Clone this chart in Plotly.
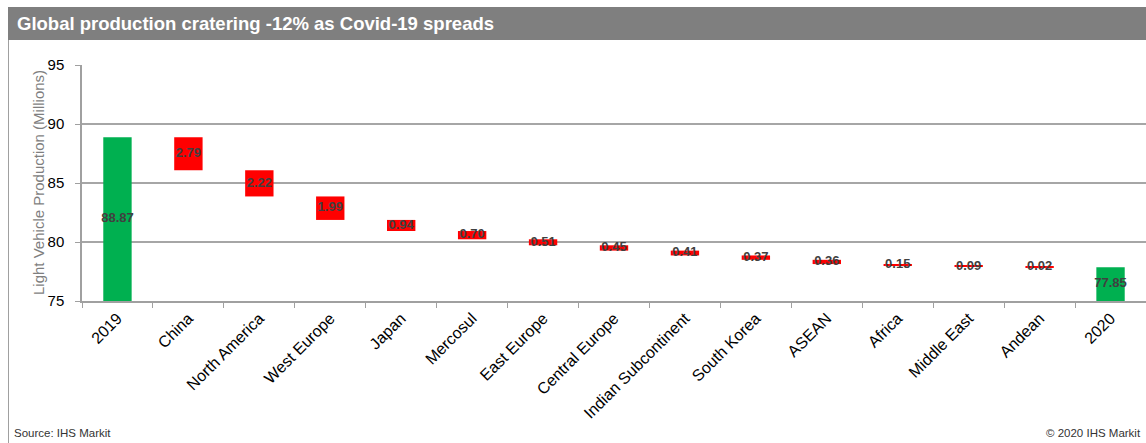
import plotly.graph_objects as go

categories = ["2019", "China", "North America", "West Europe", "Japan", "Mercosul",
              "East Europe", "Central Europe", "Indian Subcontinent", "South Korea",
              "ASEAN", "Africa", "Middle East", "Andean", "2020"]
start_total = 88.87
decreases = [2.79, 2.22, 1.99, 0.94, 0.70, 0.51, 0.45, 0.41, 0.37, 0.36, 0.15, 0.09, 0.02]
end_total = 77.85
y_ticks = [75, 80, 85, 90, 95]

Y_MIN, Y_MAX = 75, 95
W, H = 1146, 443
L, R, T, B = 82, 0, 65, 142
PW = W - L - R
PH = H - T - B


def px_x(x):
    return (x - L) / PW


def px_y(y):
    return (H - B - y) / PH


# Build waterfall bars from data
bases, heights, colors, texts, label_y = [], [], [], [], []
bases.append(0)
heights.append(start_total)
colors.append("#00B050")
texts.append(f"{start_total:.2f}")
label_y.append((Y_MIN + start_total) / 2)
running = start_total
for d in decreases:
    running -= d
    bases.append(running)
    heights.append(d)
    colors.append("#FF0000")
    texts.append(f"{d:.2f}")
    label_y.append(running + d / 2)
bases.append(0)
heights.append(end_total)
colors.append("#00B050")
texts.append(f"{end_total:.2f}")
label_y.append((Y_MIN + end_total) / 2)

fig = go.Figure()
fig.add_trace(go.Bar(
    x=categories, y=heights, base=bases,
    marker=dict(color=colors, line=dict(width=0)),
    width=0.4, showlegend=False, hoverinfo="skip",
))
fig.add_trace(go.Scatter(
    x=categories, y=label_y, text=[f"<b>{t}</b>" for t in texts], mode="text",
    textfont=dict(family="Arial, Liberation Sans", size=13, color="#404040"),
    showlegend=False, hoverinfo="skip", cliponaxis=False,
))

fig.update_layout(
    width=W, height=H,
    margin=dict(l=L, r=R, t=T, b=B),
    paper_bgcolor="white", plot_bgcolor="white",
    font=dict(family="Arial, Liberation Sans", color="#000000"),
    xaxis=dict(
        type="category", tickangle=-45, range=[-0.5, len(categories) - 0.5],
        tickfont=dict(size=16, color="#000000"),
        showline=True, linecolor="#A0A0A0", linewidth=1.5,
        ticks="outside", ticklen=5, tickcolor="#A0A0A0", tickson="boundaries",
        showgrid=False, zeroline=False, fixedrange=True,
    ),
    yaxis=dict(
        range=[Y_MIN, Y_MAX], tickvals=y_ticks,
        tickfont=dict(size=15, color="#000000"),
        showline=True, linecolor="#A0A0A0", linewidth=1.5,
        ticks="outside", ticklen=5, tickcolor="#A0A0A0", ticklabelstandoff=8,
        showgrid=True, gridcolor="#A6A6A6", gridwidth=1.5,
        zeroline=False, fixedrange=True,
    ),
    shapes=[
        dict(type="rect", xref="paper", yref="paper",
             x0=px_x(8), x1=1.0, y0=px_y(40), y1=px_y(7),
             fillcolor="#7F7F7F", line=dict(width=0), layer="below"),
        dict(type="line", xref="paper", yref="paper",
             x0=px_x(8.5), x1=px_x(8.5), y0=px_y(40), y1=px_y(445),
             line=dict(color="#A0A0A0", width=1)),
    ],
    annotations=[
        dict(text="<b>Global production cratering -12% as Covid-19 spreads</b>",
             xref="paper", yref="paper", x=px_x(15), y=px_y(23.5),
             xanchor="left", yanchor="middle", showarrow=False,
             font=dict(size=18.5, color="white", family="Arial, Liberation Sans")),
        dict(text="Light Vehicle Production (Millions)",
             xref="paper", yref="paper", x=px_x(38), y=0.5, textangle=-90,
             xanchor="center", yanchor="middle", showarrow=False,
             font=dict(size=15, color="#7F7F7F")),
        dict(text="Source: IHS Markit",
             xref="paper", yref="paper", x=px_x(12), y=px_y(433),
             xanchor="left", yanchor="middle", showarrow=False,
             font=dict(size=11.5, color="#333333")),
        dict(text="© 2020 IHS Markit",
             xref="paper", yref="paper", x=px_x(1143), y=px_y(433),
             xanchor="right", yanchor="middle", showarrow=False,
             font=dict(size=11.5, color="#333333")),
    ],
)

fig.write_html("out.html")
